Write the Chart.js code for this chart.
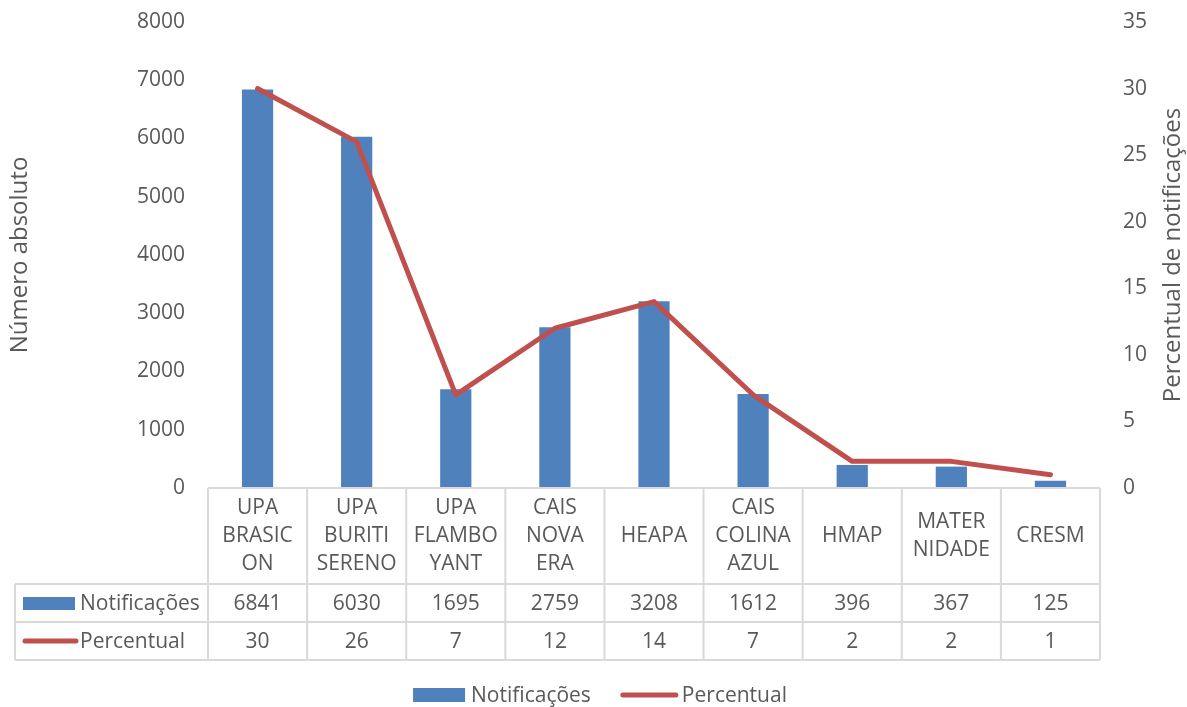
<!DOCTYPE html>
<html>
<head>
<meta charset="utf-8">
<script src="https://cdn.jsdelivr.net/npm/chart.js@4.4.1/dist/chart.umd.min.js"></script>
<style>
  html, body { margin: 0; padding: 0; background: #fff; }
</style>
</head>
<body>
<canvas id="grafico" width="1187" height="707"></canvas>
<script>
// unidades notificadoras (rótulos quebrados como na tabela)
const unidades = [
  ["UPA", "BRASIC", "ON"],
  ["UPA", "BURITI", "SERENO"],
  ["UPA", "FLAMBO", "YANT"],
  ["CAIS", "NOVA", "ERA"],
  ["HEAPA"],
  ["CAIS", "COLINA", "AZUL"],
  ["HMAP"],
  ["MATER", "NIDADE"],
  ["CRESM"]
];
const notificacoes = [6841, 6030, 1695, 2759, 3208, 1612, 396, 367, 125];
const percentual = [30, 26, 7, 12, 14, 7, 2, 2, 1];

const eixoAbsoluto = { max: 8000, passo: 1000 };
const eixoPercentual = { max: 35, passo: 5 };

const AZUL = "#4F81BD";
const VERMELHO = "#C0504D";
const CINZA_TEXTO = "#595959";
const CINZA_LINHA = "#D9D9D9";
const FONTE = "'Open Sans'";
const TAM = 21;
const TAM_TITULO = 24;

Chart.defaults.font.family = FONTE;
Chart.defaults.font.size = TAM;
Chart.defaults.color = CINZA_TEXTO;

// tabela de dados abaixo do gráfico + legenda + título do eixo secundário
const tabelaDados = {
  id: "tabelaDados",
  afterDraw(chart) {
    const ctx = chart.ctx;
    const area = chart.chartArea;
    const x = chart.scales.x;
    const n = unidades.length;
    const meia = (x.getPixelForValue(1) - x.getPixelForValue(0)) / 2;
    const esq = 15;
    const y0 = area.bottom, y1 = y0 + 96, y2 = y1 + 38, y3 = y2 + 38;

    ctx.save();
    ctx.strokeStyle = CINZA_LINHA;
    ctx.lineWidth = 2;
    ctx.beginPath();
    ctx.moveTo(area.left, y0); ctx.lineTo(area.right, y0);
    [y1, y2, y3].forEach(y => { ctx.moveTo(esq, y); ctx.lineTo(area.right, y); });
    ctx.moveTo(esq, y1); ctx.lineTo(esq, y3);
    for (let i = 0; i <= n; i++) {
      const cx = (i < n ? x.getPixelForValue(i) - meia : x.getPixelForValue(n - 1) + meia);
      ctx.moveTo(cx, y0); ctx.lineTo(cx, y3);
    }
    ctx.stroke();

    ctx.fillStyle = CINZA_TEXTO;
    ctx.font = TAM + "px " + FONTE;
    ctx.textAlign = "center";
    ctx.textBaseline = "middle";
    const alturaLinha = 28;
    unidades.forEach((linhas, i) => {
      const cx = x.getPixelForValue(i);
      const topo = (y0 + y1) / 2 - (linhas.length - 1) * alturaLinha / 2;
      linhas.forEach((t, k) => ctx.fillText(t, cx, topo + k * alturaLinha));
      ctx.fillText(String(notificacoes[i]), cx, (y1 + y2) / 2 + 1);
      ctx.fillText(String(percentual[i]), cx, (y2 + y3) / 2 + 1);
    });

    // chaves da legenda dentro da tabela
    const ds = chart.data.datasets;
    ctx.textAlign = "left";
    ctx.fillStyle = ds[0].backgroundColor;
    ctx.fillRect(23, (y1 + y2) / 2 - 6, 52, 13);
    ctx.strokeStyle = ds[1].borderColor;
    ctx.lineWidth = 5;
    ctx.lineCap = "round";
    ctx.beginPath();
    ctx.moveTo(25, (y2 + y3) / 2); ctx.lineTo(76, (y2 + y3) / 2);
    ctx.stroke();
    ctx.fillStyle = CINZA_TEXTO;
    ctx.fillText(ds[0].label, 80, (y1 + y2) / 2 + 1);
    ctx.fillText(ds[1].label, 80, (y2 + y3) / 2 + 1);

    // legenda inferior
    const ly = 695;
    const w1 = ctx.measureText(ds[0].label).width;
    const w2 = ctx.measureText(ds[1].label).width;
    const total = 52 + 6 + w1 + 30 + 57 + 4 + w2;
    let lx = 600 - total / 2;
    ctx.fillStyle = ds[0].backgroundColor;
    ctx.fillRect(lx, ly - 7, 52, 14);
    lx += 58;
    ctx.fillStyle = CINZA_TEXTO;
    ctx.fillText(ds[0].label, lx, ly + 1);
    lx += w1 + 30;
    ctx.beginPath();
    ctx.moveTo(lx + 2, ly); ctx.lineTo(lx + 55, ly);
    ctx.stroke();
    lx += 61;
    ctx.fillText(ds[1].label, lx, ly + 1);

    // título do eixo secundário, lido de baixo para cima
    ctx.font = TAM_TITULO + "px " + FONTE;
    ctx.translate(1173, (area.top + area.bottom) / 2);
    ctx.rotate(-Math.PI / 2);
    ctx.textAlign = "center";
    ctx.fillText("Percentual de notificações", 0, 0);
    ctx.restore();
  }
};

const semSeparador = v => String(v);

new Chart(document.getElementById("grafico"), {
  data: {
    labels: unidades,
    datasets: [
      {
        type: "bar",
        label: "Notificações",
        data: notificacoes,
        backgroundColor: AZUL,
        yAxisID: "y",
        categoryPercentage: 1,
        barPercentage: 0.315,
        order: 1
      },
      {
        type: "line",
        label: "Percentual",
        data: percentual,
        borderColor: VERMELHO,
        backgroundColor: VERMELHO,
        borderWidth: 5,
        borderCapStyle: "round",
        borderJoinStyle: "round",
        pointRadius: 0,
        tension: 0,
        yAxisID: "y1",
        order: 0
      }
    ]
  },
  options: {
    responsive: false,
    animation: false,
    layout: { padding: { top: 22, left: 0, right: 0, bottom: 219 } },
    plugins: {
      legend: { display: false },
      tooltip: { enabled: false }
    },
    scales: {
      x: {
        display: false
      },
      y: {
        position: "left",
        min: 0,
        max: eixoAbsoluto.max,
        ticks: { stepSize: eixoAbsoluto.passo, padding: 0, callback: semSeparador },
        grid: { display: false, drawTicks: true, tickLength: 23 },
        border: { display: false },
        title: {
          display: true,
          text: "Número absoluto",
          font: { size: TAM_TITULO },
          padding: { top: 6 }
        },
        afterFit(s) { s.width = 208; }
      },
      y1: {
        position: "right",
        min: 0,
        max: eixoPercentual.max,
        ticks: { stepSize: eixoPercentual.passo, padding: 0, callback: semSeparador },
        grid: { display: false, drawTicks: true, tickLength: 23 },
        border: { display: false },
        afterFit(s) { s.width = 87; }
      }
    }
  },
  plugins: [tabelaDados]
});
</script>
</body>
</html>
